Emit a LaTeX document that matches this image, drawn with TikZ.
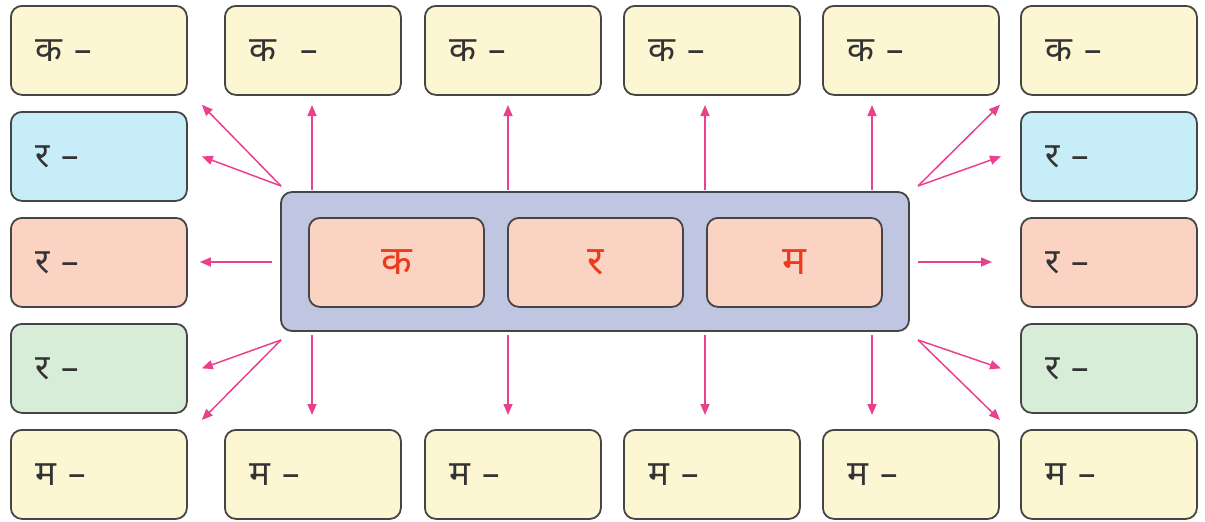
\documentclass[tikz,border=0pt]{standalone}
\usepackage{fontspec}
\newfontfamily\deva[Script=Devanagari]{Noto Sans}
\usetikzlibrary{arrows.meta,calc}
\definecolor{cyel}{HTML}{FDF6D3}
\definecolor{cblu}{HTML}{C6EDF8}
\definecolor{cpch}{HTML}{FBD3C2}
\definecolor{cgrn}{HTML}{D8EDD8}
\definecolor{cbig}{HTML}{C0C5E2}
\definecolor{cedge}{HTML}{454545}
\definecolor{ctxt}{HTML}{333333}
\definecolor{cred}{HTML}{EC3A1E}
\definecolor{carr}{HTML}{E8428E}
\tikzset{
  wbox/.style={draw=cedge, line width=1.8pt, rounded corners=11pt, anchor=north west,
    minimum width=176pt, minimum height=89pt, inner xsep=25pt, text width=126pt,
    align=left, font=\deva\fontsize{35}{38}\selectfont, text=ctxt},
  bigbox/.style={draw=cedge, line width=1.8pt, rounded corners=11pt, fill=cbig},
  letbox/.style={draw=cedge, line width=1.8pt, rounded corners=11pt, fill=cpch, anchor=north west,
    minimum width=175pt, minimum height=89pt, font=\deva\fontsize{40}{42}\selectfont, text=cred},
  arr/.style={draw=carr, line width=1.5pt, -{Triangle[length=11pt,width=9pt]}}
}
\begin{document}
\begin{tikzpicture}[x=1pt,y=-1pt]
\useasboundingbox (0,0) rectangle (1205,522);
% top row
\node[wbox, fill=cyel] (t1) at (10,5) {क –};
\node[wbox, fill=cyel] (t2) at (224,5) {क \ –};
\node[wbox, fill=cyel] (t3) at (424,5) {क –};
\node[wbox, fill=cyel] (t4) at (623,5) {क –};
\node[wbox, fill=cyel] (t5) at (822,5) {क –};
\node[wbox, fill=cyel] (t6) at (1020,5) {क –};
% bottom row
\node[wbox, fill=cyel] (b1) at (10,429) {म –};
\node[wbox, fill=cyel] (b2) at (224,429) {म –};
\node[wbox, fill=cyel] (b3) at (424,429) {म –};
\node[wbox, fill=cyel] (b4) at (623,429) {म –};
\node[wbox, fill=cyel] (b5) at (822,429) {म –};
\node[wbox, fill=cyel] (b6) at (1020,429) {म –};
% left column
\node[wbox, fill=cblu] (l2) at (10,111) {र –};
\node[wbox, fill=cpch] (l3) at (10,217) {र –};
\node[wbox, fill=cgrn] (l4) at (10,323) {र –};
% right column
\node[wbox, fill=cblu] (r2) at (1020,111) {र –};
\node[wbox, fill=cpch] (r3) at (1020,217) {र –};
\node[wbox, fill=cgrn] (r4) at (1020,323) {र –};
% centre
\draw[bigbox] (281,192) rectangle (909,331);
\node[letbox] (ka) at (308,217) {क};
\node[letbox] (ra) at (507,217) {र};
\node[letbox] (ma) at (706,217) {म};
% left arrows
\coordinate (lo1) at (281,186);
\coordinate (lo2) at (281,340);
\coordinate (lm) at (272,262);
\coordinate (rm) at (918,262);
\draw[arr] (lo1) -- ($(t1.south east)+(14,9)$);
\draw[arr] (lo1) -- ($(l2.east)+(14,0)$);
\draw[arr] (lm) -- (lm -| {$(l3.east)+(12,0)$});
\draw[arr] (lo2) -- ($(l4.east)+(14,0)$);
\draw[arr] (lo2) -- ($(b1.north east)+(14,-9)$);
% right arrows
\coordinate (ro1) at (918,186);
\coordinate (ro2) at (918,340);
\draw[arr] (ro1) -- ($(t6.south west)+(-20,9)$);
\draw[arr] (ro1) -- ($(r2.west)+(-19,0)$);
\draw[arr] (rm) -- (rm -| {$(r3.west)+(-28,0)$});
\draw[arr] (ro2) -- ($(r4.west)+(-19,0)$);
\draw[arr] (ro2) -- ($(b6.north west)+(-20,-9)$);
% vertical arrows
\foreach \xx in {312, 508, 705, 872}{
  \draw[arr] (\xx,190) -- (\xx,105);
  \draw[arr] (\xx,335) -- (\xx,415);
}
\end{tikzpicture}
\end{document}
